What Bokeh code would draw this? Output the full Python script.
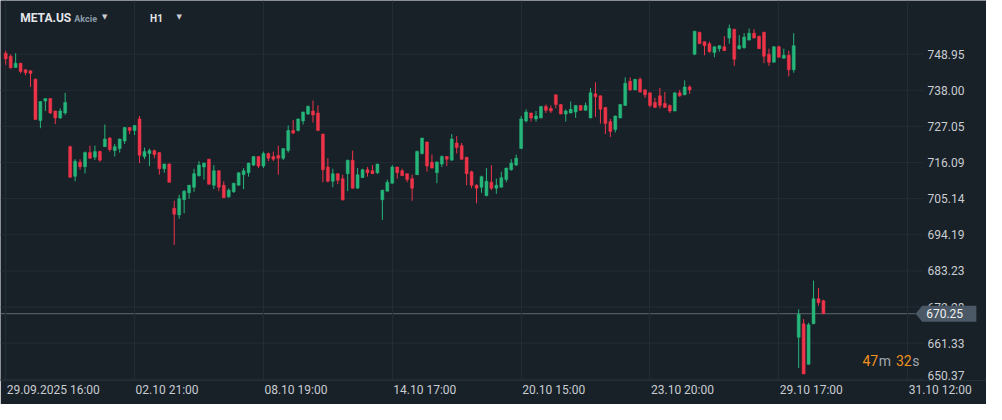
from bokeh.plotting import figure
from bokeh.models import ColumnDataSource, Range1d, FixedTicker, Label
from bokeh.core.properties import value
from bokeh.embed import file_html
from bokeh.resources import INLINE

# ---------------- data (META.US, H1) ----------------
open_ = [
    749.2, 748.3, 744.9, 746.2, 744.2, 743.9, 741.3, 728.8, 734.7, 735.5,
    731.7, 729.6, 731.1, 720.9, 711.9, 716.2, 714.8, 719.1, 717.7, 719.4,
    720.9, 723.5, 719.7, 720.3, 722.6, 726.7, 725.8, 729.3, 717.9, 718.8,
    719.7, 719.1, 714.2, 715.6, 702.2, 700.2, 704.8, 706.9, 708.6, 712.1,
    714.7, 717.1, 709.2, 713.6, 709.2, 705.7, 707.2, 709.2, 712.4, 713.0,
    715.3, 717.9, 715.0, 718.8, 717.9, 718.2, 717.4, 719.7, 725.8, 725.8,
    728.7, 730.8, 731.7, 731.1, 724.7, 714.7, 710.4, 712.7, 711.2, 712.7,
    716.8, 708.3, 711.5, 713.9, 713.6, 713.0, 704.8, 707.4, 709.8, 714.7,
    713.6, 712.7, 711.2, 712.4, 718.8, 722.3, 716.2, 713.0, 715.6, 717.9,
    716.8, 722.0, 721.2, 717.7, 713.3, 709.2, 708.6, 706.0, 710.1, 708.3,
    708.6, 710.9, 713.9, 715.3, 720.3, 728.7, 731.1, 729.3, 729.6, 733.1,
    732.5, 736.6, 733.7, 730.8, 731.1, 731.4, 733.4, 731.9, 729.6, 736.9,
    736.3, 732.8, 728.5, 726.1, 729.6, 733.4, 740.7, 738.1, 741.3, 738.1,
    737.2, 734.3, 736.3, 734.0, 733.4, 731.7, 737.2, 736.6, 739.0, 748.9,
    755.6, 752.7, 752.1, 749.4, 750.6, 751.2, 753.8, 756.5, 750.6, 750.9,
    753.2, 755.3, 754.4, 755.6, 748.9, 746.5, 751.2, 747.7, 748.6, 744.2,
    663.1, 667.2, 654.9, 667.2, 674.8, 674.2,
]
high = [
    750.0, 748.9, 749.2, 746.3, 744.3, 744.0, 741.6, 734.6, 735.5, 735.6,
    731.8, 732.5, 737.2, 721.2, 717.1, 717.1, 719.4, 721.2, 721.2, 719.7,
    727.6, 723.8, 721.7, 723.3, 726.8, 726.8, 727.4, 730.2, 720.6, 720.3,
    720.0, 719.2, 715.7, 715.9, 704.5, 706.3, 707.7, 709.3, 714.2, 716.5,
    716.0, 717.2, 715.3, 713.7, 710.4, 708.3, 709.9, 713.1, 714.4, 716.0,
    718.0, 718.0, 719.4, 719.1, 719.4, 721.2, 720.4, 727.3, 729.0, 729.4,
    731.5, 733.4, 734.9, 733.4, 724.8, 717.4, 714.2, 712.8, 712.4, 716.9,
    719.7, 714.4, 714.2, 714.7, 715.3, 715.7, 707.8, 710.9, 715.3, 714.8,
    714.2, 712.8, 712.4, 719.7, 723.6, 722.4, 718.5, 716.5, 718.2, 718.0,
    724.7, 724.1, 722.0, 717.8, 713.6, 709.5, 712.1, 714.4, 715.3, 711.2,
    713.3, 714.5, 717.1, 718.5, 730.2, 732.2, 731.2, 731.7, 733.2, 733.7,
    733.4, 736.7, 733.8, 732.2, 734.6, 733.5, 733.5, 734.3, 738.7, 740.4,
    736.4, 732.9, 729.3, 730.3, 733.8, 741.9, 741.9, 741.4, 741.9, 738.4,
    737.3, 735.7, 738.7, 737.5, 733.7, 737.3, 738.1, 741.0, 739.5, 756.0,
    755.7, 752.8, 752.7, 751.3, 751.6, 754.4, 757.9, 756.6, 754.7, 755.3,
    756.7, 756.5, 754.5, 755.7, 750.6, 751.3, 751.5, 750.6, 750.0, 755.3,
    671.6, 668.6, 667.5, 680.3, 678.0, 674.5,
]
low = [
    745.7, 744.5, 744.8, 743.1, 742.5, 739.0, 729.0, 726.5, 731.7, 730.8,
    727.7, 729.3, 730.5, 711.5, 710.4, 713.9, 712.8, 717.1, 716.8, 716.3,
    720.8, 719.4, 717.9, 719.1, 721.7, 724.7, 724.4, 715.9, 717.1, 715.0,
    717.4, 712.4, 713.0, 710.0, 691.1, 699.0, 700.7, 705.1, 707.2, 711.8,
    710.9, 709.4, 708.0, 707.4, 705.3, 705.4, 706.9, 709.1, 708.0, 711.8,
    715.0, 714.4, 714.4, 716.5, 716.5, 712.4, 716.8, 719.1, 724.7, 725.5,
    727.6, 730.5, 728.2, 725.7, 710.1, 710.1, 708.6, 709.5, 704.5, 707.4,
    708.2, 708.2, 711.4, 711.8, 712.6, 712.6, 698.7, 707.3, 709.7, 711.2,
    712.0, 710.1, 704.5, 712.3, 718.5, 713.3, 714.3, 709.8, 714.7, 715.0,
    716.7, 718.8, 716.8, 709.2, 708.3, 703.7, 706.9, 705.9, 707.7, 706.6,
    708.5, 710.1, 713.6, 715.0, 720.2, 728.2, 728.5, 728.5, 729.5, 731.1,
    731.1, 732.5, 730.7, 728.5, 731.0, 729.6, 731.8, 731.8, 729.5, 729.9,
    727.9, 724.7, 723.8, 725.2, 729.5, 733.3, 737.8, 738.0, 737.2, 735.7,
    732.8, 732.7, 732.5, 732.7, 731.1, 731.6, 736.0, 736.5, 736.9, 748.6,
    752.0, 748.6, 749.4, 748.0, 749.7, 749.9, 752.1, 745.4, 750.3, 750.6,
    753.1, 753.7, 750.5, 746.2, 745.4, 746.4, 747.9, 747.6, 742.2, 743.3,
    653.8, 651.9, 654.8, 667.1, 672.7, 670.2,
]
close = [
    747.5, 744.8, 746.2, 743.7, 743.3, 743.1, 729.1, 734.6, 735.5, 731.1,
    729.6, 731.7, 734.3, 711.6, 716.5, 714.8, 719.1, 717.4, 719.4, 716.8,
    723.2, 720.0, 720.9, 723.2, 726.7, 725.8, 727.3, 718.3, 719.4, 719.7,
    718.5, 714.2, 715.6, 710.1, 700.4, 705.1, 707.4, 709.2, 712.7, 715.3,
    715.9, 709.5, 713.6, 708.6, 705.4, 707.7, 709.8, 713.0, 713.6, 715.9,
    717.9, 715.0, 718.8, 717.4, 717.1, 717.4, 720.3, 725.8, 725.0, 729.3,
    731.4, 733.1, 730.5, 725.8, 713.9, 710.4, 712.7, 710.7, 704.8, 716.8,
    708.3, 712.4, 713.9, 713.0, 712.7, 715.6, 707.7, 710.1, 714.7, 713.0,
    712.1, 710.9, 708.3, 719.4, 723.5, 715.0, 714.4, 716.2, 717.9, 717.1,
    723.2, 720.6, 717.1, 712.7, 709.2, 708.3, 711.8, 710.4, 708.3, 709.2,
    711.5, 714.4, 715.9, 717.4, 729.3, 731.4, 729.6, 730.2, 733.1, 731.9,
    731.7, 733.7, 730.8, 731.7, 732.2, 733.4, 731.9, 733.4, 737.2, 736.0,
    732.2, 727.9, 725.5, 730.2, 733.7, 740.1, 738.1, 741.3, 737.5, 736.6,
    733.4, 732.8, 733.4, 732.8, 731.7, 737.2, 736.3, 739.0, 738.1, 755.9,
    752.1, 751.5, 749.7, 751.2, 751.5, 750.0, 756.7, 747.4, 751.5, 754.1,
    755.3, 753.8, 750.6, 748.3, 746.5, 751.2, 748.0, 748.6, 744.2, 751.5,
    670.1, 652.0, 666.9, 674.8, 673.6, 670.25,
]

x_label_idx = [0, 26, 52, 78, 104, 130, 156, 182]
x_labels = ["29.09.2025  16:00", "02.10 21:00", "08.10 19:00", "14.10 17:00",
            "20.10 15:00", "23.10 20:00", "29.10 17:00", "31.10 12:00"]
y_ticks = [650.37, 661.33, 672.28, 683.23, 694.19, 705.14, 716.09, 727.05, 738.00, 748.95]
last_price = 670.25
symbol = "META.US"
asset_class = "Akcie"
timeframe = "H1"
countdown = [("47", "num"), ("m", "unit"), ("32", "num"), ("s", "unit")]

# ---------------- styling / layout ----------------
BG = "#182028"
GRID = "#232c34"
UP = "#26b67a"
DOWN = "#ee3449"
TXT = "#c9cdd1"
ORANGE = "#f0921d"
FONT = "Roboto"

W, H = 986, 404
FRAME_H = 380
GRID_RIGHT_PX = 923     # where the price grid stops (price scale begins)
PX = 4.956              # pixels per candle
X0 = -1.052
x_range = Range1d(X0, X0 + W / PX)
y_range = Range1d(650.0, 765.2)
ppx = (y_range.end - y_range.start) / FRAME_H


def dx(px):
    """screen pixel (from the left) -> x data coordinate"""
    return X0 + px / PX


p = figure(width=W, height=H, x_range=x_range, y_range=y_range,
           y_axis_location=None, output_backend="svg", toolbar_location=None,
           min_border_left=0, min_border_top=0, min_border_right=0,
           min_border_bottom=H - FRAME_H,
           background_fill_color=BG, border_fill_color=BG, outline_line_color=None)

n = len(close)
xs = list(range(n))
colors = [UP if c >= o else DOWN for o, c in zip(open_, close)]
src = ColumnDataSource(dict(
    x=xs, open=open_, high=high, low=low, close=close,
    top=[max(o, c) for o, c in zip(open_, close)],
    bottom=[min(o, c) for o, c in zip(open_, close)],
    color=colors,
))

# vertical grid (time)
p.xgrid.ticker = FixedTicker(ticks=x_label_idx)
p.xgrid.grid_line_color = GRID
p.ygrid.visible = False

# horizontal grid (price), stopping at the price scale
p.segment(x0=[X0] * len(y_ticks), x1=[dx(GRID_RIGHT_PX)] * len(y_ticks),
          y0=y_ticks, y1=y_ticks, line_color=GRID, line_width=1, level="underlay")


def text_w(s, size=12):
    w = 0.0
    for ch in s:
        if ch.isdigit():
            w += 0.562
        elif ch == ".":
            w += 0.263
        elif ch == ":":
            w += 0.242
        elif ch == " ":
            w += 0.248
        elif ch == "m":
            w += 0.875
        elif ch == "s":
            w += 0.516
        else:
            w += 0.55
    return w * size


# time axis
label_pos = [round(i + (text_w(t) / 2 + 1) / PX, 2) for i, t in zip(x_label_idx, x_labels)]
p.xaxis.ticker = FixedTicker(ticks=label_pos)
p.xaxis.major_label_overrides = {pos: t for pos, t in zip(label_pos, x_labels)}
p.xaxis.axis_line_color = "#262f38"
p.xaxis.major_tick_line_color = None
p.xaxis.minor_tick_line_color = None
p.xaxis.major_tick_out = 0
p.xaxis.major_tick_in = 0
p.xaxis.major_label_standoff = 2
p.xaxis.major_label_text_color = TXT
p.xaxis.major_label_text_font = FONT
p.xaxis.major_label_text_font_size = "12px"

# price scale labels (the lowest one is nudged up so that it stays inside the pane)
label_y = [max(v, y_range.start + 5.5 * ppx) for v in y_ticks]
p.text(x=[dx(927)] * len(y_ticks), y=label_y, text=[f"{v:.2f}" for v in y_ticks],
       text_font=value(FONT), text_font_size="12px", text_color=TXT,
       text_align="left", text_baseline="middle")

# last price line (up to the tag)
tip_px, body_px, right_px = 915.1, 921.7, 975.9
p.segment(x0=[X0], x1=[dx(tip_px)], y0=[last_price], y1=[last_price],
          line_color="#5d6771", line_width=1, level="underlay")

# candles
p.segment(x0="x", y0="low", x1="x", y1="high", color="color", line_width=1, source=src)
p.vbar(x="x", width=0.6, top="top", bottom="bottom", fill_color="color",
       line_color="color", line_width=0.5, source=src)

# price tag on the scale
half = 8.0 * ppx
p.patch(x=[dx(tip_px), dx(body_px), dx(right_px), dx(right_px), dx(body_px)],
        y=[last_price, last_price + half, last_price + half, last_price - half, last_price - half],
        fill_color="#4a5965", line_color=None)
p.text(x=[dx(925.7)], y=[last_price], text=[f"{last_price:.2f}"],
       text_font=value(FONT), text_font_size="12px", text_color="#eef1f3",
       text_align="left", text_baseline="middle")

# header
sy_head = FRAME_H - 17.3
p.add_layout(Label(x=19.7, y=sy_head, x_units="screen", y_units="screen", text=symbol,
                   text_baseline="middle", text_color="#e4e7ea", text_font=FONT,
                   text_font_size="12px", text_font_style="bold"))
p.add_layout(Label(x=73.8, y=sy_head - 1, x_units="screen", y_units="screen", text=asset_class,
                   text_baseline="middle", text_color="#8b9ba7", text_font=FONT,
                   text_font_size="9px", text_font_style="bold"))
p.add_layout(Label(x=101.5, y=sy_head + 1, x_units="screen", y_units="screen", text="▼",
                   text_baseline="middle", text_color=TXT, text_font="DejaVu Sans",
                   text_font_size="7px"))
p.add_layout(Label(x=149.6, y=sy_head - 1, x_units="screen", y_units="screen", text=timeframe,
                   text_baseline="middle", text_color="#e4e7ea", text_font=FONT,
                   text_font_size="10px", text_font_style="bold"))
p.add_layout(Label(x=176.0, y=sy_head + 1, x_units="screen", y_units="screen", text="▼",
                   text_baseline="middle", text_color=TXT, text_font="DejaVu Sans",
                   text_font_size="7px"))

# countdown to candle close
cx = 862.0
for txt, kind in countdown:
    p.add_layout(Label(x=cx, y=19.7, x_units="screen", y_units="screen", text=txt,
                       text_baseline="middle", text_align="left",
                       text_color=ORANGE if kind == "num" else "#a0a8af",
                       text_font=FONT, text_font_size="14px"))
    cx += text_w(txt, 14) + (0.5 if kind == "num" else 5.0)

open("out.html", "w").write(file_html(p, INLINE))
